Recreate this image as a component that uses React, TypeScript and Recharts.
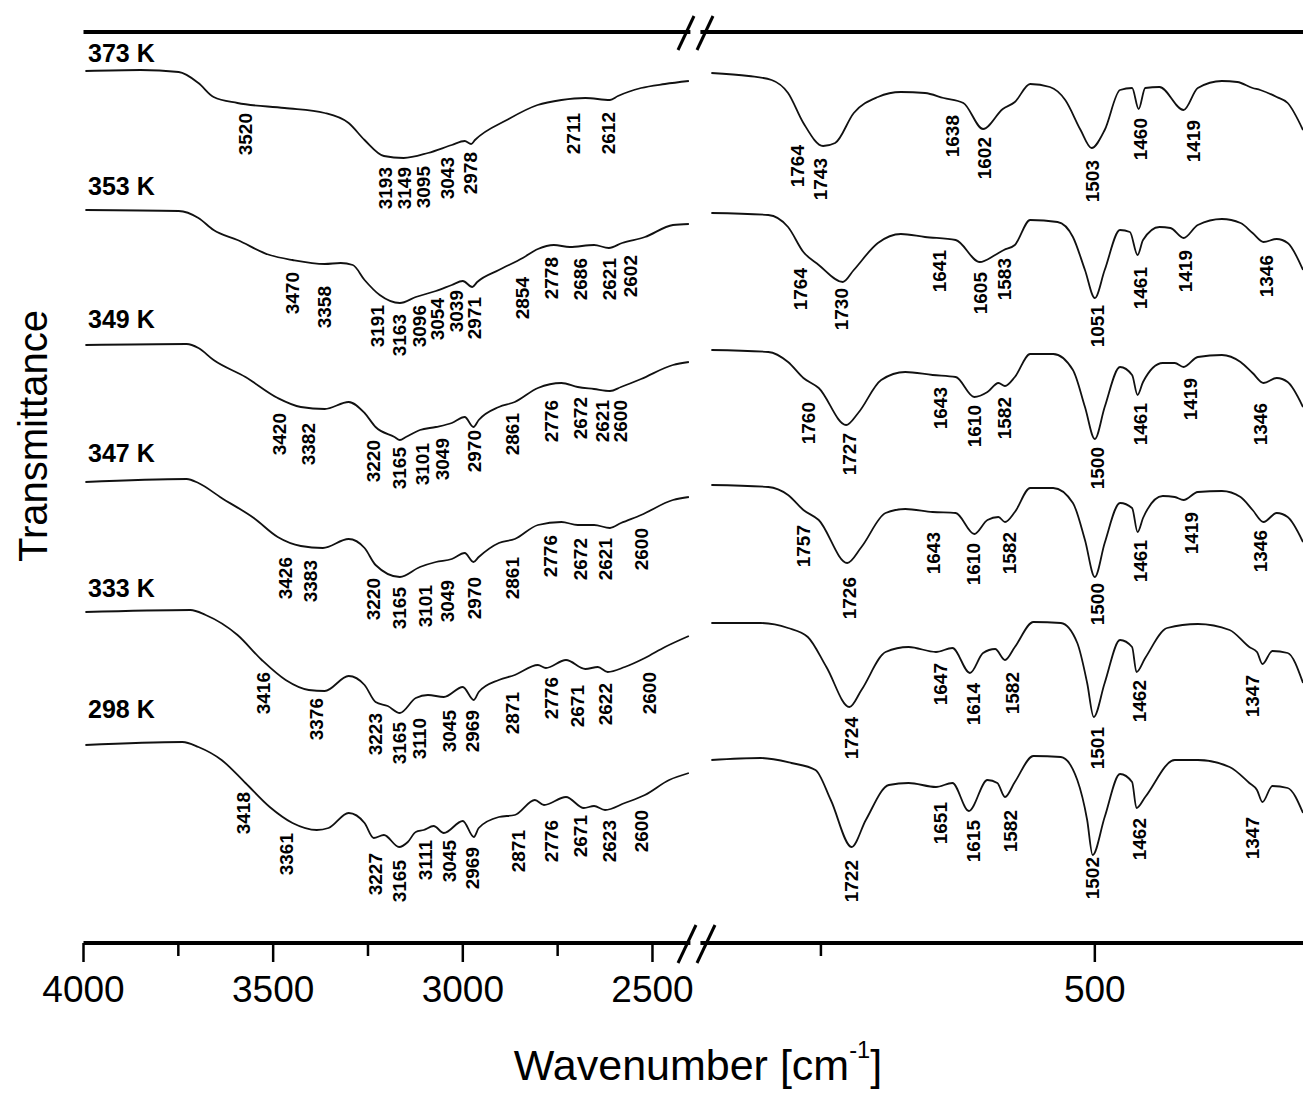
import { LineChart, Line, XAxis, YAxis, ReferenceDot, ReferenceLine } from 'recharts';

const FONT = "'Liberation Sans', Arial, Helvetica, sans-serif";

const temps = ['373 K', '353 K', '349 K', '347 K', '333 K', '298 K'];
const tempLabelT = [88.1, 74.8, 61.5, 48.1, 34.6, 22.5];

const hiTicks = [4000, 3750, 3500, 3250, 3000, 2750, 2500];
const hiTickLabels = ['4000', '', '3500', '', '3000', '', '2500'];
const loTicks = [1750, 1500];
const loTickLabels = ['', '500'];

// 4000-2400 cm-1 region: [wavenumber, transmittance (a.u., offset)]
const hi373 = [
  [3995, 87.2], [3850, 87.3], [3749, 87.1], [3697, 86.0], [3657, 84.6], [3594, 84.0], [3470, 83.5],
  [3364, 83.0], [3301, 82.0], [3259, 80.3], [3208, 78.7], [3156, 78.5], [3092, 79.0], [3029, 79.8],
  [2995, 80.2], [2978, 79.9], [2968, 80.3], [2884, 82.3], [2803, 83.8], [2740, 84.3], [2677, 84.5],
  [2612, 84.3], [2591, 84.7], [2530, 85.5], [2467, 85.9], [2404, 86.2],
];
const hi353 = [
  [3995, 73.3], [3749, 73.2], [3697, 72.5], [3657, 71.3], [3594, 70.3], [3509, 68.8], [3449, 68.3],
  [3364, 67.9], [3322, 68.0], [3290, 67.8], [3259, 66.3], [3219, 64.8], [3166, 64.0], [3124, 64.6],
  [3071, 65.2], [3029, 65.8], [3000, 66.2], [2975, 65.6], [2962, 66.1], [2905, 67.3], [2842, 68.5],
  [2802, 69.4], [2760, 69.8], [2718, 69.6], [2654, 69.8], [2615, 69.5], [2580, 70.0], [2520, 70.6],
  [2446, 71.8], [2404, 71.9],
];
const hi349 = [
  [3995, 59.8], [3728, 59.9], [3697, 59.5], [3657, 58.3], [3573, 56.6], [3488, 54.5], [3427, 53.6],
  [3364, 53.4], [3301, 54.1], [3259, 53.0], [3230, 51.6], [3180, 50.6], [3166, 50.3], [3150, 50.6],
  [3113, 51.3], [3071, 51.6], [3029, 52.0], [2995, 52.6], [2972, 51.6], [2958, 52.3], [2905, 53.6],
  [2863, 54.1], [2802, 55.5], [2740, 56.0], [2697, 55.6], [2654, 55.4], [2612, 55.2], [2583, 55.6],
  [2530, 56.4], [2446, 57.8], [2404, 58.1],
];
const hi347 = [
  [3995, 46.1], [3728, 46.4], [3697, 46.0], [3636, 44.5], [3551, 42.5], [3488, 40.6], [3427, 39.7],
  [3369, 39.5], [3301, 40.4], [3259, 39.5], [3230, 37.8], [3166, 36.6], [3113, 37.6], [3071, 38.1],
  [3029, 38.4], [2995, 39.0], [2972, 38.1], [2958, 38.6], [2905, 40.0], [2863, 40.4], [2802, 41.8],
  [2740, 42.1], [2697, 41.8], [2654, 41.8], [2612, 41.5], [2583, 42.0], [2530, 42.8], [2446, 44.3],
  [2404, 44.6],
];
const hi333 = [
  [3995, 33.1], [3718, 33.3], [3678, 32.8], [3594, 30.8], [3530, 28.3], [3467, 26.3], [3406, 25.3],
  [3364, 25.2], [3301, 26.7], [3259, 25.8], [3230, 24.1], [3198, 23.7], [3166, 23.0], [3124, 24.5],
  [3092, 24.8], [3050, 24.6], [3000, 25.6], [2971, 24.3], [2958, 25.1], [2905, 26.3], [2863, 26.8],
  [2802, 27.8], [2781, 27.5], [2728, 28.3], [2677, 27.4], [2644, 27.6], [2618, 27.1], [2573, 27.6],
  [2520, 28.5], [2467, 29.6], [2404, 30.7],
];
const hi298 = [
  [3995, 19.8], [3739, 20.1], [3697, 19.6], [3636, 18.3], [3573, 16.0], [3509, 13.6], [3449, 12.0],
  [3385, 11.3], [3354, 11.5], [3301, 13.0], [3259, 12.0], [3235, 10.5], [3208, 10.8], [3168, 9.6],
  [3145, 10.1], [3124, 11.1], [3103, 11.3], [3077, 11.7], [3050, 11.0], [3000, 12.2], [2971, 10.6],
  [2958, 11.5], [2905, 12.6], [2863, 12.8], [2810, 14.3], [2786, 13.8], [2728, 14.6], [2681, 13.5],
  [2654, 13.7], [2625, 13.3], [2573, 14.0], [2520, 14.8], [2456, 16.3], [2404, 17.0],
];

// 1860-1310 cm-1 region
const lo373 = [
  [1850, 87.0], [1816, 86.7], [1795, 86.3], [1780, 85.0], [1766, 82.0], [1748, 79.7], [1737, 80.0],
  [1720, 83.0], [1698, 84.6], [1677, 85.1], [1655, 85.0], [1638, 84.5], [1620, 84.0], [1602, 81.4],
  [1584, 83.4], [1573, 84.1], [1559, 85.9], [1541, 85.6], [1527, 84.3], [1513, 81.3], [1503, 79.5],
  [1491, 81.3], [1477, 85.3], [1466, 85.5], [1460, 83.4], [1454, 85.5], [1441, 85.6], [1419, 83.3],
  [1406, 85.5], [1384, 86.2], [1370, 86.1], [1356, 85.5], [1349, 85.3], [1334, 84.6], [1324, 84.0],
  [1310, 81.3],
];
const lo353 = [
  [1850, 73.0], [1798, 72.8], [1780, 71.6], [1766, 69.1], [1752, 67.8], [1730, 66.1], [1720, 67.3],
  [1698, 70.0], [1677, 70.9], [1655, 70.6], [1627, 70.3], [1605, 68.1], [1591, 68.8], [1583, 69.3],
  [1573, 69.8], [1559, 72.3], [1534, 72.1], [1520, 70.6], [1509, 67.3], [1500, 64.5], [1491, 67.3],
  [1477, 71.3], [1468, 71.1], [1461, 68.8], [1456, 70.3], [1441, 71.6], [1431, 71.5], [1419, 70.5],
  [1406, 71.8], [1384, 72.4], [1367, 72.0], [1356, 71.0], [1346, 70.1], [1334, 70.4], [1324, 70.0],
  [1310, 67.3],
];
const lo349 = [
  [1850, 59.3], [1798, 59.1], [1780, 58.1], [1766, 56.5], [1752, 55.5], [1727, 51.8], [1716, 53.0],
  [1695, 56.3], [1673, 57.1], [1648, 56.8], [1627, 56.6], [1610, 54.6], [1598, 55.1], [1588, 56.0],
  [1582, 55.7], [1573, 56.6], [1559, 58.9], [1538, 58.9], [1520, 57.3], [1509, 53.6], [1500, 50.4],
  [1491, 53.6], [1477, 57.6], [1466, 56.8], [1461, 54.8], [1456, 56.1], [1438, 58.0], [1427, 58.0],
  [1419, 57.6], [1406, 58.6], [1384, 58.8], [1367, 58.1], [1356, 57.0], [1346, 56.0], [1334, 56.5],
  [1324, 56.1], [1310, 53.6],
];
const lo347 = [
  [1850, 45.8], [1798, 45.6], [1780, 44.8], [1766, 43.3], [1752, 42.3], [1726, 38.0], [1713, 39.6],
  [1691, 43.0], [1673, 43.4], [1648, 43.1], [1627, 43.0], [1610, 40.9], [1598, 42.3], [1588, 42.6],
  [1582, 42.1], [1573, 43.1], [1559, 45.5], [1538, 45.5], [1520, 44.0], [1509, 40.3], [1500, 36.6],
  [1491, 40.0], [1477, 44.0], [1466, 43.5], [1461, 41.1], [1456, 42.5], [1438, 44.7], [1427, 44.6],
  [1419, 44.3], [1406, 45.1], [1384, 45.2], [1367, 44.6], [1356, 43.3], [1346, 42.1], [1334, 43.0],
  [1324, 42.6], [1310, 40.1],
];
const lo333 = [
  [1850, 32.0], [1805, 32.0], [1780, 31.5], [1762, 30.6], [1745, 27.6], [1724, 23.6], [1713, 25.3],
  [1691, 29.1], [1670, 29.6], [1645, 29.1], [1630, 29.5], [1614, 27.0], [1602, 29.0], [1591, 29.4],
  [1582, 28.3], [1573, 29.6], [1556, 32.1], [1531, 32.0], [1516, 30.0], [1507, 26.0], [1501, 22.6],
  [1491, 26.0], [1477, 30.3], [1466, 29.6], [1462, 27.1], [1454, 28.5], [1434, 31.5], [1406, 31.9],
  [1377, 31.3], [1359, 29.6], [1352, 29.1], [1347, 27.9], [1338, 29.2], [1324, 29.0], [1310, 26.0],
];
const lo298 = [
  [1850, 18.3], [1805, 18.5], [1777, 18.0], [1755, 17.3], [1741, 14.3], [1722, 9.6], [1709, 12.3],
  [1688, 15.8], [1670, 16.0], [1645, 15.6], [1630, 16.0], [1615, 13.2], [1598, 16.3], [1589, 16.0],
  [1582, 14.6], [1573, 16.1], [1556, 18.7], [1531, 18.6], [1516, 16.3], [1507, 12.3], [1502, 8.8],
  [1491, 12.6], [1477, 16.9], [1466, 16.1], [1462, 13.5], [1454, 14.6], [1427, 18.3], [1406, 18.3],
  [1377, 17.6], [1359, 16.0], [1352, 15.3], [1347, 14.1], [1338, 15.7], [1324, 15.5], [1310, 13.0],
];

// peak annotations: [text, wavenumber of label, transmittance at top of label]
const hiPeaks = [
  ['3520', 3573, 83.0], ['3193', 3203, 77.6], ['3149', 3153, 77.6], ['3095', 3103, 77.7],
  ['3043', 3040, 78.6], ['2978', 2979, 79.1], ['2711', 2707, 83.0], ['2612', 2617, 83.1],

  ['3470', 3449, 67.1], ['3358', 3364, 65.7], ['3191', 3224, 63.8], ['3163', 3166, 62.9],
  ['3096', 3113, 63.8], ['3054', 3066, 64.5], ['3039', 3016, 65.3], ['2971', 2968, 64.6],
  ['2854', 2842, 66.6], ['2778', 2765, 68.6], ['2686', 2691, 68.5], ['2621', 2612, 68.5],
  ['2602', 2557, 68.8],

  ['3420', 3483, 53.0], ['3382', 3406, 52.0], ['3220', 3235, 50.3], ['3165', 3166, 49.6],
  ['3101', 3106, 50.0], ['3049', 3053, 50.5], ['2970', 2968, 51.3], ['2861', 2868, 53.0],
  ['2776', 2765, 54.3], ['2672', 2691, 54.6], ['2621', 2633, 54.3], ['2600', 2583, 54.3],

  ['3426', 3467, 38.6], ['3383', 3401, 38.3], ['3220', 3235, 36.5], ['3165', 3166, 35.6],
  ['3101', 3098, 35.8], ['3049', 3040, 36.3], ['2970', 2968, 36.6], ['2861', 2868, 38.6],
  ['2776', 2770, 40.8], ['2672', 2691, 40.5], ['2621', 2623, 40.5], ['2600', 2530, 41.5],

  ['3416', 3525, 27.1], ['3376', 3385, 24.5], ['3223', 3230, 23.0], ['3165', 3166, 22.1],
  ['3110', 3113, 22.5], ['3045', 3034, 23.3], ['2969', 2974, 23.3], ['2871', 2868, 25.1],
  ['2776', 2765, 26.6], ['2671', 2697, 25.8], ['2622', 2623, 26.0], ['2600', 2509, 27.1],

  ['3418', 3578, 15.1], ['3361', 3464, 11.0], ['3227', 3230, 9.0], ['3165', 3166, 8.3],
  ['3111', 3098, 10.3], ['3045', 3034, 10.3], ['2969', 2974, 9.6], ['2871', 2852, 11.3],
  ['2776', 2765, 12.3], ['2671', 2691, 12.8], ['2623', 2612, 12.3], ['2600', 2530, 13.3],
];

const loPeaks = [
  ['1764', 1771, 79.8], ['1743', 1750, 78.5], ['1638', 1630, 82.8], ['1602', 1601, 80.6],
  ['1503', 1502, 78.3], ['1460', 1458, 82.5], ['1419', 1410, 82.3],

  ['1764', 1769, 67.5], ['1730', 1731, 65.5], ['1641', 1642, 69.3], ['1605', 1604, 67.1],
  ['1583', 1582, 68.5], ['1051', 1498, 63.8], ['1461', 1458, 67.6], ['1419', 1417, 69.3],
  ['1346', 1343, 68.8],

  ['1760', 1761, 54.1], ['1727', 1724, 51.0], ['1643', 1641, 55.6], ['1610', 1610, 53.8],
  ['1582', 1582, 54.6], ['1500', 1498, 49.6], ['1461', 1458, 54.0], ['1419', 1413, 56.5],
  ['1346', 1349, 54.0],

  ['1757', 1766, 41.8], ['1726', 1724, 36.6], ['1643', 1647, 41.1], ['1610', 1611, 40.0],
  ['1582', 1578, 41.1], ['1500', 1498, 36.0], ['1461', 1458, 40.3], ['1419', 1412, 43.1],
  ['1346', 1349, 41.3],

  ['1724', 1722, 22.6], ['1647', 1641, 28.0], ['1614', 1611, 26.0], ['1582', 1575, 27.1],
  ['1501', 1498, 21.6], ['1462', 1459, 26.3], ['1347', 1356, 26.8],

  ['1722', 1722, 8.3], ['1651', 1641, 14.1], ['1615', 1611, 12.3], ['1582', 1577, 13.3],
  ['1502', 1502, 8.6], ['1462', 1459, 12.5], ['1347', 1356, 12.6],
];

const hiSpectra = [hi373, hi353, hi349, hi347, hi333, hi298];
const loSpectra = [lo373, lo353, lo349, lo347, lo333, lo298];

const T_MAX = 91.1;

const toPoints = (rows: number[][]) => rows.map(([wn, t]) => ({ wn, t }));

const makeTick = (ticks: number[], labels: string[]) => (props: any) => {
  const { x, y, payload } = props;
  const i = ticks.indexOf(payload.value);
  const text = i >= 0 ? labels[i] : '';
  const major = text !== '';
  return (
    <g>
      <line x1={x} y1={y} x2={x} y2={y + (major ? 19 : 13)} stroke="#000" strokeWidth={2.5} />
      {major && (
        <text x={x} y={y + 59} textAnchor="middle" fontSize={37} fontFamily={FONT} fill="#000">
          {text}
        </text>
      )}
    </g>
  );
};

const PeakText = ({ cx, cy, text }: any) => (
  <text
    x={cx}
    y={cy}
    transform={`rotate(-90 ${cx} ${cy})`}
    textAnchor="end"
    dominantBaseline="central"
    fontSize={19}
    fontWeight="bold"
    fontFamily={FONT}
    fill="#000"
  >
    {text}
  </text>
);

const TempText = ({ cx, cy, text }: any) => (
  <text x={cx} y={cy} fontSize={25} fontWeight="bold" fontFamily={FONT} fill="#000">
    {text}
  </text>
);

const lineProps = {
  dataKey: 't',
  stroke: '#111',
  strokeWidth: 1.8,
  dot: false,
  type: 'monotone' as const,
  isAnimationActive: false,
};

const App = () => {
  return (
    <div style={{ position: 'absolute', left: 0, top: 0, width: 1303, height: 1096, overflow: 'hidden', background: '#fff' }}>
      {/* high wavenumber panel */}
      <div style={{ position: 'absolute', left: 0, top: 0 }}>
        <LineChart width={700} height={1096} margin={{ top: 32, right: 9.6, bottom: 93, left: 83.5 }}>
          <XAxis
            dataKey="wn"
            type="number"
            domain={[2400, 4000]}
            reversed
            allowDataOverflow
            ticks={hiTicks}
            interval={0}
            tickSize={0}
            tickMargin={0}
            tickLine={false}
            height={60}
            axisLine={{ stroke: '#000', strokeWidth: 4 }}
            tick={makeTick(hiTicks, hiTickLabels)}
          />
          <YAxis
            type="number"
            domain={[0, T_MAX]}
            allowDataOverflow
            width={0}
            tick={false}
            tickLine={false}
            axisLine={{ stroke: '#000', strokeWidth: 4 }}
          />
          <ReferenceLine y={T_MAX} stroke="#000" strokeWidth={4} />
          {hiSpectra.map((s, i) => (
            <Line key={`hi-${i}`} data={toPoints(s)} {...lineProps} />
          ))}
          {hiPeaks.map(([text, wn, t], i) => (
            <ReferenceDot
              key={`hp-${i}`}
              x={wn as number}
              y={t as number}
              r={0}
              shape={(p: any) => <PeakText cx={p.cx} cy={p.cy} text={text} />}
            />
          ))}
          {temps.map((text, i) => (
            <ReferenceDot
              key={`tl-${i}`}
              x={3988}
              y={tempLabelT[i]}
              r={0}
              shape={(p: any) => <TempText cx={p.cx} cy={p.cy} text={text} />}
            />
          ))}
        </LineChart>
      </div>

      {/* fingerprint panel */}
      <div style={{ position: 'absolute', left: 690, top: 0 }}>
        <LineChart width={613} height={1096} margin={{ top: 32, right: 0, bottom: 93, left: 10.4 }}>
          <XAxis
            dataKey="wn"
            type="number"
            domain={[1310, 1860]}
            reversed
            allowDataOverflow
            ticks={loTicks}
            interval={0}
            tickSize={0}
            tickMargin={0}
            tickLine={false}
            height={60}
            axisLine={{ stroke: '#000', strokeWidth: 4 }}
            tick={makeTick(loTicks, loTickLabels)}
          />
          <YAxis type="number" domain={[0, T_MAX]} allowDataOverflow hide width={0} />
          <ReferenceLine y={T_MAX} stroke="#000" strokeWidth={4} />
          {loSpectra.map((s, i) => (
            <Line key={`lo-${i}`} data={toPoints(s)} {...lineProps} />
          ))}
          {loPeaks.map(([text, wn, t], i) => (
            <ReferenceDot
              key={`lp-${i}`}
              x={wn as number}
              y={t as number}
              r={0}
              shape={(p: any) => <PeakText cx={p.cx} cy={p.cy} text={text} />}
            />
          ))}
        </LineChart>
      </div>

      {/* y axis title */}
      <svg style={{ position: 'absolute', left: 0, top: 0 }} width={70} height={1096}>
        <text
          x={33}
          y={436}
          transform="rotate(-90 33 436)"
          textAnchor="middle"
          dominantBaseline="central"
          fontSize={40}
          fontFamily={FONT}
          fill="#000"
        >
          Transmittance
        </text>
      </svg>

      {/* axis break marks */}
      <svg style={{ position: 'absolute', left: 670, top: 0 }} width={60} height={1096}>
        <line x1={8} y1={50} x2={24} y2={16} stroke="#000" strokeWidth={3} />
        <line x1={27} y1={50} x2={43} y2={16} stroke="#000" strokeWidth={3} />
        <line x1={8} y1={963} x2={26} y2={925} stroke="#000" strokeWidth={3} />
        <line x1={27} y1={963} x2={45} y2={925} stroke="#000" strokeWidth={3} />
      </svg>

      <div
        style={{
          position: 'absolute',
          left: 448,
          top: 1040,
          width: 500,
          textAlign: 'center',
          fontFamily: FONT,
          fontSize: 43,
          lineHeight: '50px',
          color: '#000',
          whiteSpace: 'nowrap',
        }}
      >
        Wavenumber [cm
        <span style={{ fontSize: '0.55em', position: 'relative', top: '-0.95em' }}>-1</span>]
      </div>
    </div>
  );
};

export default App;
